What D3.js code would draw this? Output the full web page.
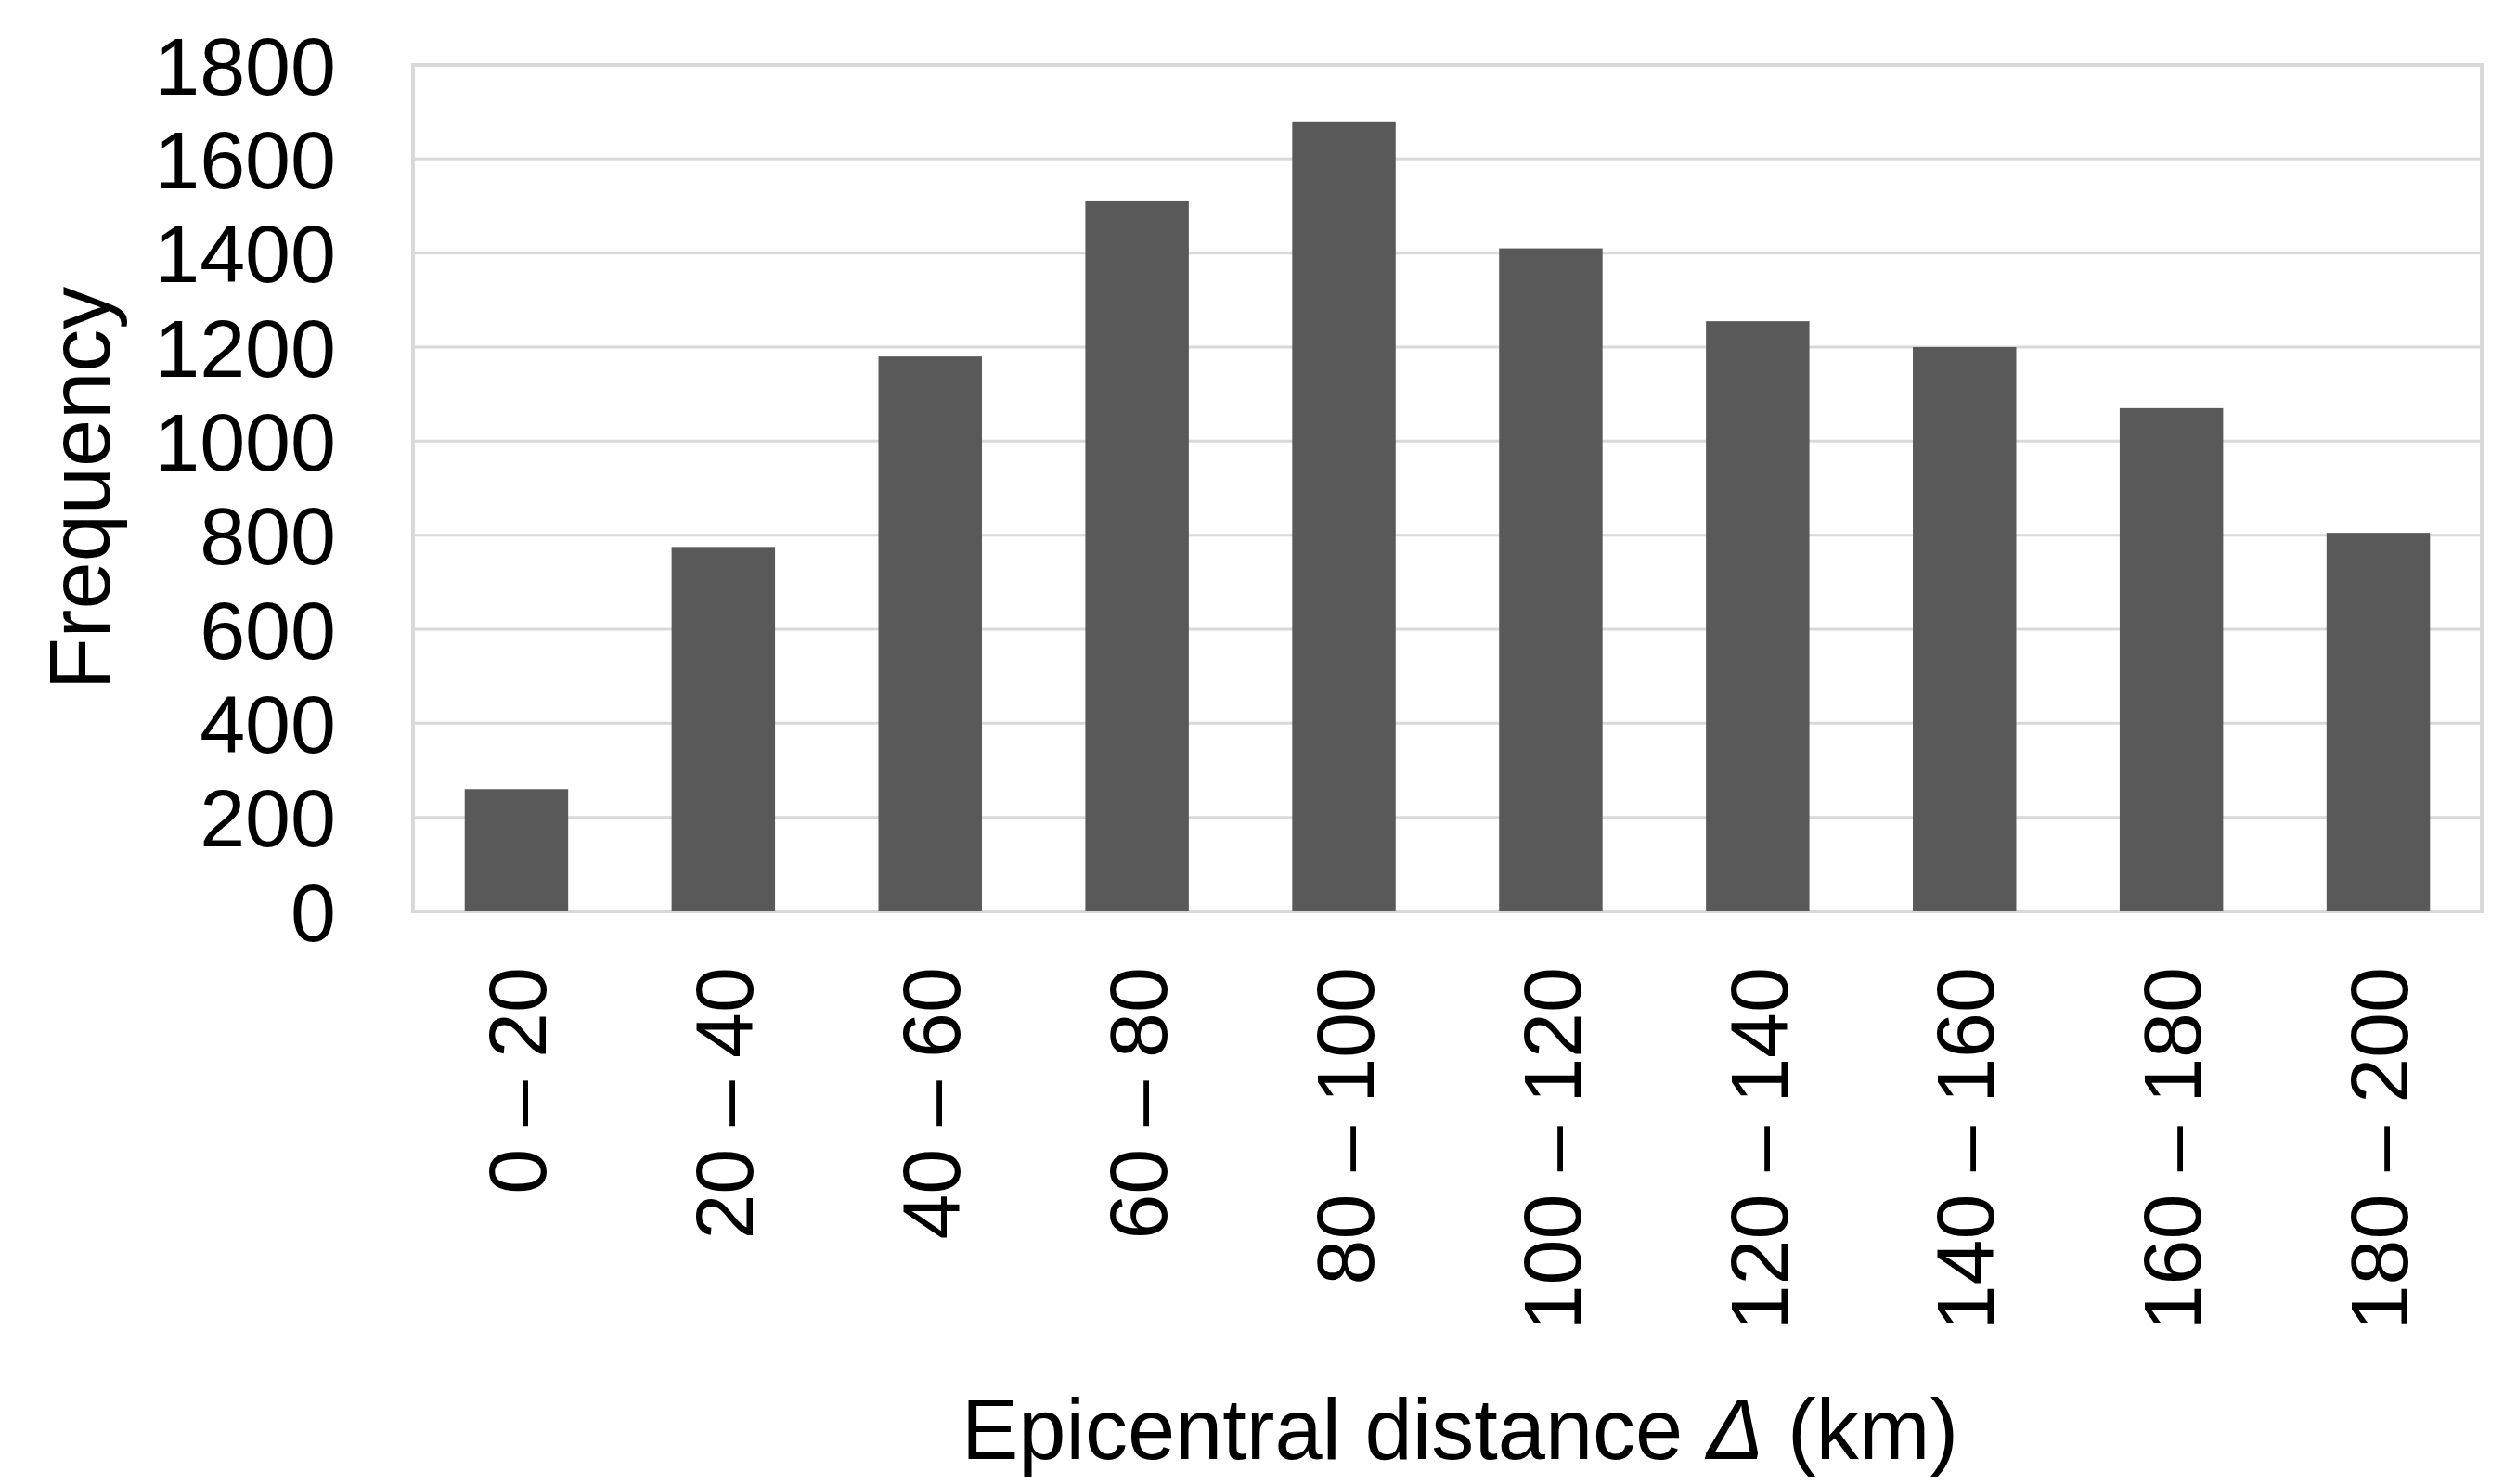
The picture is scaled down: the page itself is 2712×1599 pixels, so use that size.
<!DOCTYPE html>
<html><head><meta charset="utf-8">
<script src="https://cdn.jsdelivr.net/npm/d3@7"></script>
<style>body{margin:0;background:#fff}</style>
</head><body><svg id="chart"></svg>
<script>
const categories = ["0 – 20","20 – 40","40 – 60","60 – 80","80 – 100","100 – 120","120 – 140","140 – 160","160 – 180","180 – 200"];
const frequency = [260, 775, 1180, 1510, 1680, 1410, 1255, 1200, 1070, 805];
const yTicks = [0,200,400,600,800,1000,1200,1400,1600,1800];

const width = 2712, height = 1599;
const m = {left: 445, right: 38, top: 70, bottom: 617};
const font = "'Liberation Sans', Arial, sans-serif";

const svg = d3.select("#chart").attr("width", width).attr("height", height);

const x = d3.scaleBand().domain(categories).range([m.left, width - m.right]).paddingInner(0.5).paddingOuter(0.25);
const y = d3.scaleLinear().domain([0, 1800]).range([height - m.bottom, m.top]);

// grid
svg.append("g").selectAll("line").data(yTicks).join("line")
  .attr("x1", m.left).attr("x2", width - m.right)
  .attr("y1", d => y(d)).attr("y2", d => y(d))
  .attr("stroke", "#d9d9d9").attr("stroke-width", 3);
svg.append("rect").attr("x", m.left).attr("y", m.top)
  .attr("width", width - m.left - m.right).attr("height", y(0) - m.top)
  .attr("fill", "none").attr("stroke", "#d9d9d9").attr("stroke-width", 4);

// bars
svg.append("g").selectAll("rect").data(frequency).join("rect")
  .attr("x", (d, i) => x(categories[i])).attr("width", x.bandwidth())
  .attr("y", d => y(d)).attr("height", d => y(0) - y(d))
  .attr("fill", "#595959");

// y tick labels
svg.append("g").selectAll("text").data(yTicks).join("text")
  .attr("x", 362).attr("y", d => y(d)).attr("dy", "0.36em")
  .attr("text-anchor", "end").attr("font-family", font).attr("font-size", 88)
  .text(d => d);

// x tick labels (rotated)
svg.append("g").selectAll("text").data(categories).join("text")
  .attr("transform", d => `translate(${x(d) + x.bandwidth() / 2},1042) rotate(-90)`)
  .attr("dy", "0.36em").attr("text-anchor", "end")
  .attr("font-family", font).attr("font-size", 88)
  .text(d => d);

// axis titles
svg.append("text").attr("transform", "translate(85,526) rotate(-90)")
  .attr("text-anchor", "middle").attr("dy", "0.36em")
  .attr("font-family", font).attr("font-size", 92).text("Frequency");

const xt = svg.append("text").attr("x", 1573).attr("y", 1572)
  .attr("text-anchor", "middle").attr("font-family", font).attr("font-size", 92);
xt.append("tspan").text("Epicentral distance ");
xt.append("tspan").attr("font-style", "italic").text("Δ");
xt.append("tspan").text(" (km)");
</script>
</body></html>
